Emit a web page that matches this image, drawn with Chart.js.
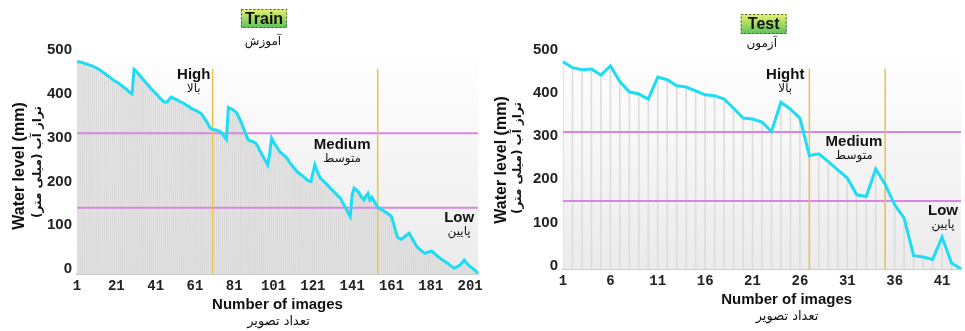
<!DOCTYPE html>
<html>
<head>
<meta charset="utf-8">
<script src="https://cdn.jsdelivr.net/npm/chart.js@4.4.1/dist/chart.umd.min.js"></script>
<style>
  html, body { margin: 0; padding: 0; background: #fff; }
  #wrap { position: relative; width: 965px; height: 331px; overflow: hidden; }
  canvas { position: absolute; top: 0; }
  #train { left: 0; }
  #test { left: 485px; }
</style>
</head>
<body>
<div id="wrap">
  <canvas id="train" width="485" height="331"></canvas>
  <canvas id="test" width="480" height="331"></canvas>
</div>
<script>
  /* ================= DATA ================= */

  // water level (mm) per image, train set (205 images)
  const trainLevels = [
    473, 473, 472, 471, 469, 468, 466, 465, 463, 461,
    459, 456, 453, 450, 447, 443, 440, 437, 433, 430,
    427, 425, 421, 418, 414, 411, 407, 403, 400, 456,
    452, 447, 442, 436, 431, 426, 421, 415, 410, 406,
    401, 397, 391, 387, 382, 381, 382, 388, 393, 390,
    388, 386, 383, 381, 379, 376, 373, 371, 367, 365,
    363, 361, 358, 356, 350, 343, 336, 328, 321, 319,
    318, 317, 315, 314, 308, 302, 296, 369, 367, 365,
    361, 358, 350, 340, 330, 318, 306, 296, 293, 292,
    290, 287, 280, 270, 262, 254, 246, 238, 262, 299,
    290, 283, 276, 269, 265, 261, 257, 252, 245, 239,
    233, 228, 222, 219, 215, 212, 208, 204, 201, 200,
    220, 238, 226, 215, 207, 203, 198, 194, 189, 184,
    180, 175, 171, 166, 162, 153, 145, 137, 128, 120,
    170, 185, 181, 177, 170, 163, 158, 167, 173, 158,
    164, 156, 148, 141, 138, 136, 133, 130, 127, 124,
    120, 105, 88, 73, 70, 68, 72, 75, 79, 82,
    74, 66, 58, 51, 47, 43, 39, 36, 38, 40,
    41, 40, 35, 31, 28, 24, 21, 18, 15, 12,
    8, 5, 2, 5, 7, 10, 15, 21, 15, 10,
    6, 3, -1, -5, -9
  ];
  const trainLabels = trainLevels.map((_, i) => String(i + 1));
  const trainTicks = ['1', '21', '41', '61', '81', '101', '121', '141', '161', '181', '201'];
  const trainBands = [310, 140];      // high / low limits (mm)
  const trainSplits = [70, 154];      // image numbers of class changes

  // water level (mm) per image, test set
  const testLevels = [
    473, 459, 454, 456, 442, 463, 427, 403, 398, 386,
    437, 431, 417, 414, 405, 396, 394, 386, 365, 342,
    340, 333, 311, 379, 363, 342, 255, 259, 241, 222,
    203, 164, 160, 224, 188, 141, 110, 23, 20, 14,
    66, 6, -8
  ];
  const testLabels = testLevels.map((_, i) => String(i + 1));
  const testTicks = ['1', '6', '11', '16', '21', '26', '31', '36', '41'];
  const testBands = [310, 150];
  const testSplits = [27, 35];

  const yTicks = [0, 100, 200, 300, 400, 500];

  /* ================= DRAWING ================= */

  const EN = '"Liberation Sans", Arial, sans-serif';
  const FA = '"DejaVu Sans", sans-serif';

  const decor = {
    id: 'decor',
    beforeDatasetsDraw(chart) {
      const { ctx, chartArea: a } = chart;
      const g = ctx.createLinearGradient(0, a.top, 0, a.bottom);
      g.addColorStop(0, '#ffffff');
      g.addColorStop(1, '#ebebeb');
      ctx.save();
      ctx.fillStyle = g;
      ctx.fillRect(a.left, a.top, a.right - a.left, a.bottom - a.top);
      ctx.restore();
    },
    afterDatasetDraw(chart, args, o) {
      if (args.index !== 1) return; // right after the drop lines
      const { ctx, chartArea: a, scales: { x, y } } = chart;
      ctx.save();
      ctx.strokeStyle = '#d986e2';
      ctx.lineWidth = 2;
      o.bands.forEach(v => {
        const py = y.getPixelForValue(v);
        ctx.beginPath(); ctx.moveTo(a.left, py); ctx.lineTo(a.right, py); ctx.stroke();
      });
      ctx.strokeStyle = '#ecc24c';
      ctx.lineWidth = 1.5;
      o.splits.forEach(n => {
        const px = x.getPixelForValue(n - 1);
        ctx.beginPath(); ctx.moveTo(px, y.getPixelForValue(o.splitTop)); ctx.lineTo(px, a.bottom); ctx.stroke();
      });
      ctx.restore();
    },
    afterDraw(chart, args, o) {
      const { ctx, scales: { x, y } } = chart;
      const text = (s, px, py, font, rtl, rot) => {
        ctx.save();
        ctx.translate(px, py);
        if (rot) ctx.rotate(rot);
        ctx.font = font;
        ctx.fillStyle = '#111';
        ctx.textAlign = 'center';
        ctx.textBaseline = 'middle';
        ctx.direction = rtl ? 'rtl' : 'ltr';
        ctx.fillText(s, 0, 0);
        ctx.restore();
      };

      // title box
      const b = o.box;
      const g = ctx.createLinearGradient(0, b.cy - b.h / 2, 0, b.cy + b.h / 2);
      g.addColorStop(0, '#e6f26c');
      g.addColorStop(1, '#5cc25a');
      ctx.save();
      ctx.fillStyle = g;
      ctx.fillRect(b.cx - b.w / 2, b.cy - b.h / 2, b.w, b.h);
      ctx.strokeStyle = '#555';
      ctx.lineWidth = 1;
      ctx.setLineDash([2, 2]);
      ctx.strokeRect(b.cx - b.w / 2 + 0.5, b.cy - b.h / 2 + 0.5, b.w - 1, b.h - 1);
      ctx.restore();
      text(o.title, b.cx, b.cy + 1, 'bold 16px ' + EN);
      text(o.titleFa, o.sub.x, o.sub.y, '12px ' + FA, true);

      // axis titles
      text('Water level (mm)', o.yT.x, o.yT.y, 'bold 16px ' + EN, false, -Math.PI / 2);
      text('تراز آب (میلی متر)', o.yF.x, o.yF.y, 'bold 12px ' + FA, true, -Math.PI / 2);
      text('Number of images', o.xT.x, o.xT.y, 'bold 15px ' + EN);
      text('تعداد تصویر', o.xF.x, o.xF.y, '13px ' + FA, true);

      // class notes
      o.notes.forEach(n => {
        const px = x.getPixelForValue(n.at - 1);
        const py = y.getPixelForValue(n.level);
        text(n.en, px, py, 'bold 15px ' + EN);
        text(n.fa, px, py + 14, '12px ' + FA, true);
      });
    }
  };

  function makeChart(id, labels, levels, ticks, yMin, yWidth, xHeight, padRight, dropColor, deco) {
    return new Chart(document.getElementById(id), {
      type: 'bar',
      data: {
        labels: labels,
        datasets: [{
          type: 'line',
          data: levels,
          borderColor: '#1fdcf5',
          borderWidth: 3,
          pointRadius: 0,
          tension: 0,
          order: 0
        }, {
          type: 'bar',
          data: levels,
          backgroundColor: dropColor,
          barThickness: 1,
          base: yMin,
          order: 1
        }]
      },
      options: {
        responsive: false,
        animation: false,
        devicePixelRatio: 1,
        layout: { padding: { top: 50, right: padRight, bottom: 0, left: 0 } },
        plugins: { legend: { display: false }, tooltip: { enabled: false }, decor: deco },
        scales: {
          x: {
            type: 'category',
            offset: false,
            grid: { display: false, drawTicks: false, offset: false },
            border: { display: true, color: '#cccccc', width: 2 },
            afterFit: a => { a.height = xHeight; },
            ticks: {
              autoSkip: false, maxRotation: 0, minRotation: 0, padding: 4,
              color: '#222', font: { family: '"Liberation Mono", monospace', size: 14, weight: 'bold' },
              callback: function (v) {
                const l = this.getLabelForValue(v);
                return ticks.includes(l) ? l : '';
              }
            }
          },
          y: {
            min: yMin, max: 500,
            grid: { display: false, drawTicks: false },
            border: { display: false },
            afterFit: a => { a.width = yWidth; },
            afterBuildTicks: a => { a.ticks = yTicks.map(v => ({ value: v })); },
            ticks: {
              padding: 5, color: '#222',
              font: { family: EN, size: 15, weight: 'bold' }
            }
          }
        }
      },
      plugins: [decor]
    });
  }

  makeChart('train', trainLabels, trainLevels, trainTicks, -11, 77, 57, 7, '#dadada', {
    bands: trainBands, splits: trainSplits, splitTop: 457,
    title: 'Train', titleFa: 'آموزش',
    box: { cx: 264, cy: 18.5, w: 46, h: 19 }, sub: { x: 263, y: 42 },
    yT: { x: 19.5, y: 166 }, yF: { x: 37.5, y: 162 },
    xT: { x: 277.5, y: 305 }, xF: { x: 278.5, y: 322 },
    notes: [
      { en: 'High', fa: 'بالا', at: 60.4, level: 443 },
      { en: 'Medium', fa: 'متوسط', at: 135.9, level: 284 },
      { en: 'Low', fa: 'پایین', at: 195.4, level: 118 }
    ]
  });

  makeChart('test', testLabels, testLevels, testTicks, -8, 78, 62, 0, '#dddddd', {
    bands: testBands, splits: testSplits, splitTop: 457,
    title: 'Test', titleFa: 'آزمون',
    box: { cx: 278.7, cy: 24, w: 46, h: 20 }, sub: { x: 276.7, y: 43.5 },
    yT: { x: 17, y: 160 }, yF: { x: 33, y: 158 },
    xT: { x: 301.7, y: 300 }, xF: { x: 302, y: 317 },
    notes: [
      { en: 'Hight', fa: 'بالا', at: 24.45, level: 443 },
      { en: 'Medium', fa: 'متوسط', at: 31.7, level: 286 },
      { en: 'Low', fa: 'پایین', at: 41.1, level: 126 }
    ]
  });
</script>
</body>
</html>
